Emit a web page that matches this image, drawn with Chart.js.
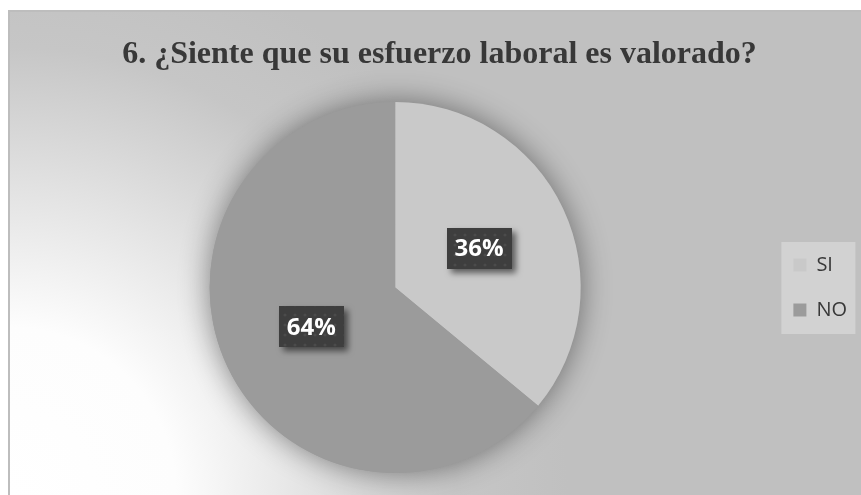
<!DOCTYPE html>
<html>
<head>
<meta charset="utf-8">
<script src="https://cdn.jsdelivr.net/npm/chart.js@4.4.1/dist/chart.umd.min.js"></script>
<style>
  html, body { margin: 0; padding: 0; background: #ffffff; }
  #wrap { width: 861px; height: 495px; position: relative; }
</style>
</head>
<body>
<div id="wrap"><canvas id="pieChart"></canvas></div>
<script>
// Chart data
const chartTitle = '6. ¿Siente que su esfuerzo laboral es valorado?';
const categories = ['SI', 'NO'];
const percentValues = [36, 64];
const sliceColors = ['#c9c9c9', '#9b9b9b'];

// Dark label box fill with a faint dot texture
function makeDotPattern(ctx) {
    const tile = document.createElement('canvas');
    tile.width = 10;
    tile.height = 10;
    const t = tile.getContext('2d');
    t.fillStyle = '#3e3e3e';
    t.fillRect(0, 0, 10, 10);
    t.fillStyle = '#4b4b4b';
    t.beginPath();
    t.arc(5, 5, 1.6, 0, Math.PI * 2);
    t.fill();
    return ctx.createPattern(tile, 'repeat');
}

// Frame + gradient background, legend panel
const backgroundPlugin = {
    id: 'backgroundPlugin',
    beforeDraw(chart) {
        const ctx = chart.ctx;
        const w = chart.width, h = chart.height;
        ctx.save();
        ctx.fillStyle = '#ffffff';
        ctx.fillRect(0, 0, w, h);
        const grad = ctx.createRadialGradient(8, h, 0, 8, h, 560);
        grad.addColorStop(0, '#ffffff');
        grad.addColorStop(0.3, '#fdfdfd');
        grad.addColorStop(0.55, '#e2e2e2');
        grad.addColorStop(0.8, '#c6c6c6');
        grad.addColorStop(1, '#c0c0c0');
        ctx.fillStyle = grad;
        ctx.fillRect(8, 10, w - 8, h - 10);
        // frame line (left and top)
        ctx.strokeStyle = '#bdbdbd';
        ctx.lineWidth = 2;
        ctx.beginPath();
        ctx.moveTo(9, h);
        ctx.lineTo(9, 11);
        ctx.lineTo(w, 11);
        ctx.stroke();

        // legend panel
        const boxes = chart.legend && chart.legend.legendHitBoxes;
        if (boxes && boxes.length) {
            const first = boxes[0], last = boxes[boxes.length - 1];
            ctx.fillStyle = '#d2d2d2';
            ctx.fillRect(first.left - 12, first.top - 13, 74, last.top + last.height - first.top + 27);
        }
        ctx.restore();
    },
    beforeDatasetsDraw(chart) {
        // soft shadow under the whole pie
        const arc = chart.getDatasetMeta(0).data[0];
        if (!arc) return;
        const ctx = chart.ctx;
        ctx.save();
        ctx.shadowColor = 'rgba(0, 0, 0, 0.45)';
        ctx.shadowBlur = 30;
        ctx.fillStyle = '#9b9b9b';
        ctx.beginPath();
        ctx.arc(arc.x, arc.y, arc.outerRadius, 0, Math.PI * 2);
        ctx.fill();
        ctx.restore();
    }
};

// Percentage boxes on the slices
const labelBoxPlugin = {
    id: 'labelBoxPlugin',
    afterDatasetsDraw(chart) {
        const ctx = chart.ctx;
        const meta = chart.getDatasetMeta(0);
        const pattern = makeDotPattern(ctx);
        ctx.save();
        ctx.font = 'bold 24px "Open Sans"';
        ctx.textAlign = 'center';
        ctx.textBaseline = 'middle';
        meta.data.forEach((arc, i) => {
            const pos = arc.tooltipPosition();
            const text = percentValues[i] + '%';
            const bw = 65, bh = 41;
            ctx.save();
            ctx.shadowColor = 'rgba(0, 0, 0, 0.55)';
            ctx.shadowBlur = 6;
            ctx.shadowOffsetX = 4;
            ctx.shadowOffsetY = 4;
            ctx.fillStyle = pattern;
            ctx.fillRect(Math.round(pos.x - bw / 2), Math.round(pos.y - bh / 2), bw, bh);
            ctx.restore();
            ctx.fillStyle = '#ffffff';
            ctx.fillText(text, pos.x, pos.y + 1);
        });
        ctx.restore();
    }
};

const ctx = document.getElementById('pieChart');
new Chart(ctx, {
    type: 'pie',
    data: {
        labels: categories,
        datasets: [{
            data: percentValues,
            backgroundColor: sliceColors,
            borderWidth: 0
        }]
    },
    options: {
        responsive: true,
        maintainAspectRatio: false,
        animation: false,
        layout: {
            padding: { left: 22, right: 4, top: 10, bottom: 22 }
        },
        plugins: {
            title: {
                display: true,
                text: chartTitle,
                color: '#383838',
                font: { family: '"Liberation Serif"', size: 32, weight: 'bold' },
                padding: { top: 26, bottom: 27.6 }
            },
            legend: {
                position: 'right',
                fullSize: false,
                labels: {
                    boxWidth: 13,
                    boxHeight: 13,
                    padding: 25,
                    color: '#383838',
                    font: { family: '"Open Sans"', size: 20 }
                }
            },
            tooltip: { enabled: false }
        }
    },
    plugins: [backgroundPlugin, labelBoxPlugin]
});
</script>
</body>
</html>
